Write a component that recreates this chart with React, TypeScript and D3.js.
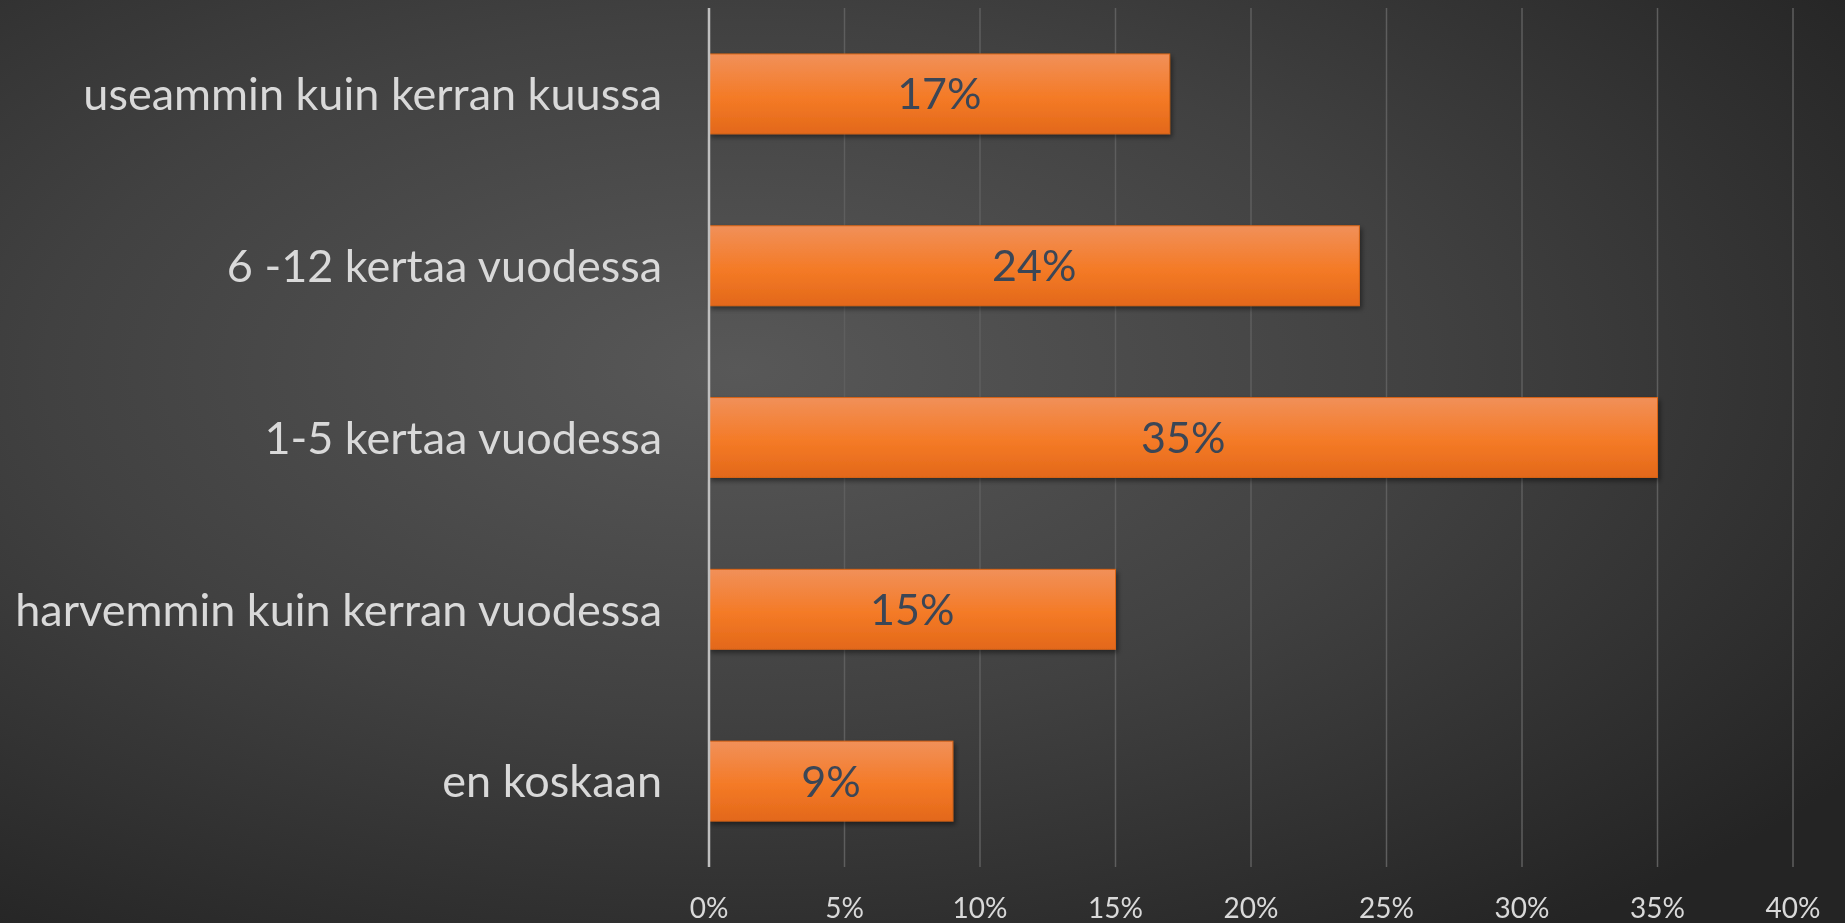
import React from 'react';
import * as d3 from 'd3';

const categories = [
  'useammin kuin kerran kuussa',
  '6 -12 kertaa vuodessa',
  '1-5 kertaa vuodessa',
  'harvemmin kuin kerran vuodessa',
  'en koskaan',
];
const values = [0.17, 0.24, 0.35, 0.15, 0.09];
const tickValues = [0, 0.05, 0.1, 0.15, 0.2, 0.25, 0.3, 0.35, 0.4];

const W = 1845;
const H = 923;
const margin = { top: 8, right: 52, bottom: 56, left: 709 };
const FONT = 'Lato, "Open Sans", sans-serif';

const App = () => {
  const innerW = W - margin.left - margin.right;
  const innerH = H - margin.top - margin.bottom;

  const x = d3.scaleLinear().domain([0, 0.4]).range([0, innerW]);
  const y = d3.scaleBand().domain(categories).range([0, innerH]).paddingInner(0.535).paddingOuter(0.2675);
  const fmt = d3.format('.0%');

  return (
    <div style={{ position: 'fixed', left: 0, top: 0 }}>
      <svg width={W} height={H} style={{ display: 'block' }}>
        <defs>
          <radialGradient id="bg" cx="0.4" cy="0.4" r="0.75" gradientUnits="objectBoundingBox">
            <stop offset="0" stopColor="#585858" />
            <stop offset="0.5" stopColor="#414141" />
            <stop offset="1" stopColor="#242424" />
          </radialGradient>
          <linearGradient id="bar" x1="0" y1="0" x2="0" y2="1">
            <stop offset="0" stopColor="#f19059" />
            <stop offset="0.55" stopColor="#f47a26" />
            <stop offset="1" stopColor="#e3681a" />
          </linearGradient>
          <filter id="shadow" x="-5%" y="-20%" width="110%" height="150%">
            <feDropShadow dx="2" dy="3" stdDeviation="2.5" floodColor="#000" floodOpacity="0.45" />
          </filter>
        </defs>
        <rect width={W} height={H} fill="url(#bg)" />
        <g transform={`translate(${margin.left},${margin.top})`}>
          {tickValues.map((t) => (
            <line
              key={t}
              x1={x(t)}
              x2={x(t)}
              y1={0}
              y2={innerH}
              stroke="#5e5e5e"
              strokeWidth={1.5}
            />
          ))}
          {categories.map((c, i) => (
            <g key={c}>
              <rect
                x={x(0)}
                y={y(c)}
                width={x(values[i]) - x(0)}
                height={y.bandwidth()}
                fill="url(#bar)"
                stroke="#d86418"
                strokeWidth={1}
                filter="url(#shadow)"
              />
              <text
                x={(x(0) + x(values[i])) / 2}
                y={(y(c) ?? 0) + y.bandwidth() / 2}
                dy="0.36em"
                textAnchor="middle"
                fontFamily={FONT}
                fontSize={43}
                fill="#3b4656"
              >
                {fmt(values[i])}
              </text>
              <text
                x={-47}
                y={(y(c) ?? 0) + y.bandwidth() / 2}
                dy="0.36em"
                textAnchor="end"
                fontFamily={FONT}
                fontSize={45}
                fill="#d9d9d9"
              >
                {c}
              </text>
            </g>
          ))}
          <line x1={x(0)} x2={x(0)} y1={0} y2={innerH} stroke="#bfbfbf" strokeWidth={2.5} />
          {tickValues.map((t) => (
            <text
              key={'l' + t}
              x={x(t)}
              y={innerH + 51}
              textAnchor="middle"
              fontFamily={FONT}
              fontSize={28}
              fill="#d9d9d9"
            >
              {fmt(t)}
            </text>
          ))}
        </g>
      </svg>
    </div>
  );
};

export default App;
